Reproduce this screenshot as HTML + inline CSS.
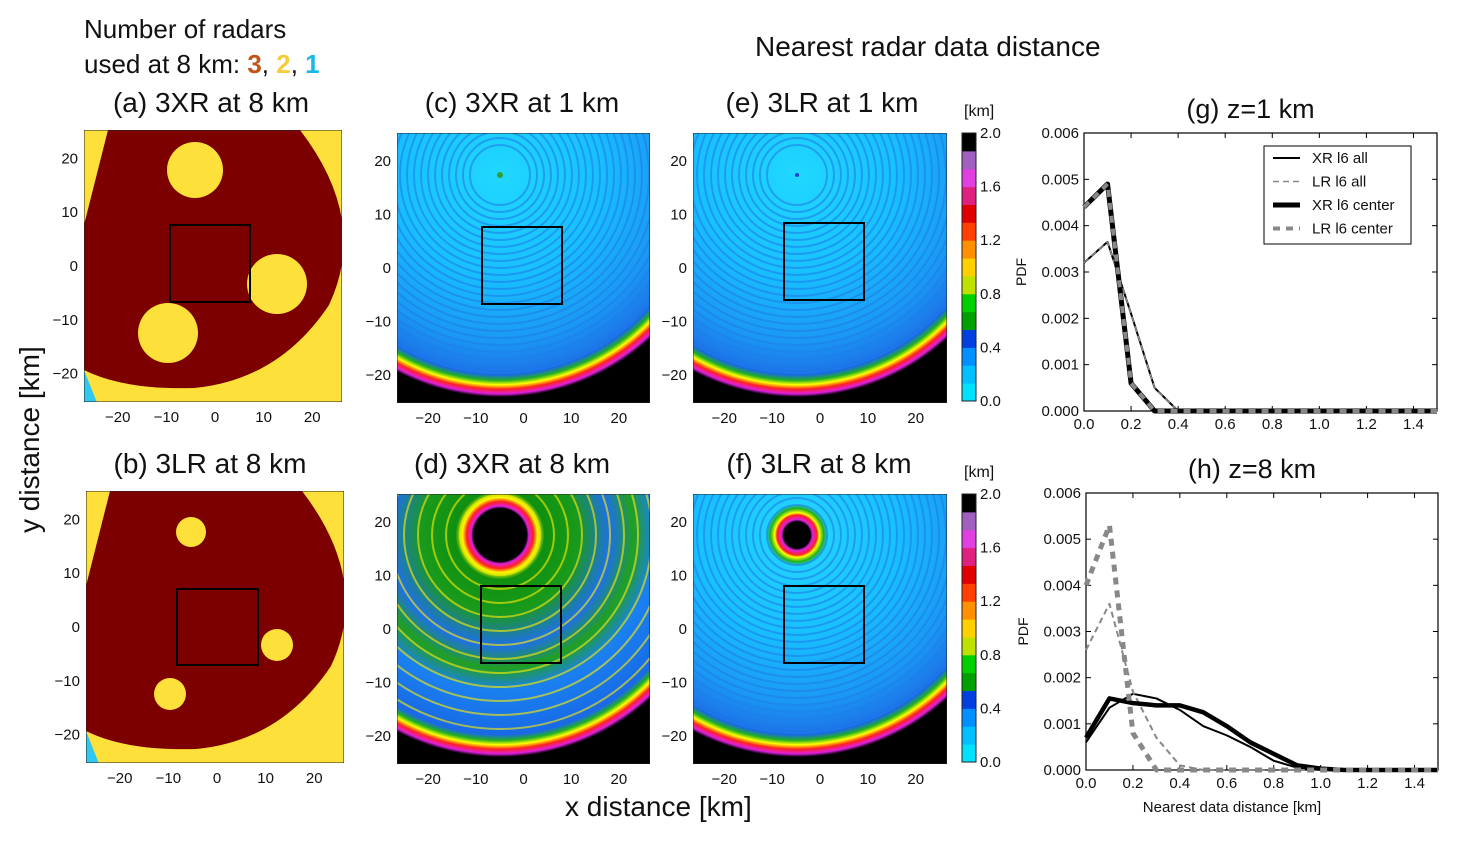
<!DOCTYPE html>
<html><head><meta charset="utf-8"><style>
body{margin:0;background:#fff;width:1458px;height:841px;position:relative;overflow:hidden;font-family:"Liberation Sans",sans-serif}
.t{position:absolute;white-space:nowrap;color:#111}
</style></head><body>
<div class="t" style="left:84px;top:12px;font-size:26px;line-height:35px">Number of radars<br>used at 8 km: <b style="color:#c0561a">3</b>, <b style="color:#f7cc3a">2</b>, <b style="color:#1ab8e8">1</b></div>
<div class="t" style="left:755px;top:31px;font-size:28px">Nearest radar data distance</div>
<div class="t" style="left:-95px;top:392px;font-size:28px;transform:rotate(-90deg);width:250px">y distance [km]</div>
<div class="t" style="left:565px;top:791px;font-size:28px">x distance [km]</div>
<svg id="maps" width="1458" height="841" style="position:absolute;left:0;top:0"></svg>
<svg id="charts" width="1458" height="841" style="position:absolute;left:0;top:0"></svg>
<script>
const NS='http://www.w3.org/2000/svg';
function el(svg,tag,attrs,txt){const e=document.createElementNS(NS,tag);for(const k in attrs)e.setAttribute(k,attrs[k]);if(txt!==undefined)e.textContent=txt;svg.appendChild(e);return e;}
const M=document.getElementById('maps');
const defs=el(M,'defs',{});
function rg(id,stops,cx,cy,r){const g=el(defs,'radialGradient',{id:id,cx:cx,cy:cy,r:r,gradientUnits:'userSpaceOnUse'});stops.forEach(s=>el(g,'stop',{offset:s[0],'stop-color':s[1]}));}
const edge=[[0.9,'#1a68e6'],[0.925,'#20b020'],[0.945,'#ffff00'],[0.965,'#ff2020'],[0.985,'#e020e0'],[1,'#000']];
rg('blueC',[[0,'#20d8ff'],[0.45,'#18c0ff'],[0.75,'#1a98f4'],[0.88,'#1c78ea']].concat(edge),500,175,222);
rg('blueE',[[0,'#20d8ff'],[0.45,'#18c0ff'],[0.75,'#1a98f4'],[0.88,'#1c78ea']].concat(edge),797,175,222);
rg('greenD',[[0,'#000'],[0.12,'#000'],[0.13,'#e020e0'],[0.15,'#ff2020'],[0.17,'#ffff00'],[0.2,'#109010'],[0.35,'#1a9a1a'],[0.5,'#1e70e8'],[0.6,'#20a020'],[0.7,'#1a80f0'],[0.85,'#1870e8']].concat(edge),500,535,222);
rg('blueF',[[0,'#000'],[0.06,'#000'],[0.07,'#e020e0'],[0.09,'#ff2020'],[0.1,'#ffff00'],[0.12,'#20b020'],[0.14,'#20d0ff'],[0.45,'#18c0ff'],[0.75,'#1a98f4'],[0.88,'#1c78ea']].concat(edge),797,535,222);
function ticks(x0,x1,y0,y1){
  const sx=(x1-x0)/52, cx=x0+26*sx+ (x0<200?2:0);
  [-20,-10,0,10,20].forEach(v=>{const t=el(M,'text',{x:cx+v*sx*0.98,y:y1+20,'font-size':15,'text-anchor':'middle',fill:'#111'},v===0?'0':(v<0?'\u2212'+(-v):v));});
  const cy=(y0+y1)/2, sy=(y1-y0)/50.5;
  [20,10,0,-10,-20].forEach(v=>{const t=el(M,'text',{x:x0-6,y:cy-v*sy+5,'font-size':15,'text-anchor':'end',fill:'#111'},v===0?'0':(v<0?'\u2212'+(-v):v));});
}
function title(x,y,s){const t=el(M,'text',{x:x,y:y,'font-size':28,'text-anchor':'middle',fill:'#111'},s);}
function coverage(x0,y0,w,h,circ,box,name){
  const g=el(M,'g',{});
  const cid='c'+name;const cp=el(defs,'clipPath',{id:cid});el(cp,'rect',{x:x0,y:y0,width:w,height:h});
  g.setAttribute('clip-path','url(#'+cid+')');
  el(g,'rect',{x:x0,y:y0,width:w,height:h,fill:'#fde03a'});
  el(g,'path',{d:`M${x0-5},${y0+220} L${x0} ${y0+240} L${x0+14},${y0+275} L${x0-5},${y0+275}Z`,fill:'#2ec8f0'});
  el(g,'path',{d:`M${x0},${y0+95} L${x0+24},${y0} L${x0+216},${y0} Q${x0+285},${y0+90} ${x0+245},${y0+175} Q${x0+195},${y0+250} ${x0+110},${y0+258} Q${x0+40},${y0+260} ${x0},${y0+240}Z`,fill:'#7d0000'});
  circ.forEach(c=>el(g,'circle',{cx:c[0],cy:c[1],r:c[2],fill:'#fde03a'}));
  el(g,'rect',{x:box[0],y:box[1],width:box[2],height:box[3],fill:'none',stroke:'#000','stroke-width':2});
  el(g,'rect',{x:x0,y:y0,width:w,height:h,fill:'none',stroke:'#222','stroke-width':1});
}
coverage(84,130,258,272,[[195,170,28],[277,284,30],[168,333,30]],[170,225,80,77],'panel-a');
coverage(86,491,258,272,[[191,532,15],[277,645,16],[170,694,16]],[177,589,81,76],'panel-b');
title(211,112,'(a) 3XR at 8 km');title(210,473,'(b) 3LR at 8 km');
ticks(84,342,130,402);ticks(86,344,491,763);
function field(x0,y0,w,h,fill,box,name,rings,rc){
  const g=el(M,'g',{});
  const cid='c'+name;const cp=el(defs,'clipPath',{id:cid});el(cp,'rect',{x:x0,y:y0,width:w,height:h});
  g.setAttribute('clip-path','url(#'+cid+')');
  el(g,'rect',{x:x0,y:y0,width:w,height:h,fill:'url(#'+fill+')'});
  for(let r=rings[0];r<200;r+=rings[1]) el(g,'circle',{cx:rc[0],cy:rc[1],r:r,fill:'none',stroke:rings[2],'stroke-width':rings[3],opacity:0.6});
  el(g,'rect',{x:box[0],y:box[1],width:box[2],height:box[3],fill:'none',stroke:'#000','stroke-width':2});
  el(g,'rect',{x:x0,y:y0,width:w,height:h,fill:'none',stroke:'#222','stroke-width':1});
}
field(397,133,253,270,'blueC',[482,227,80,77],'panel-c',[30,7,'#1e7ee8',2],[500,175]);
field(693,133,254,270,'blueE',[784,223,80,77],'panel-e',[30,7,'#1e7ee8',2],[797,175]);
field(397,494,253,270,'greenD',[481,586,80,77],'panel-d',[40,14,'#ffee00',2],[500,535]);
field(693,494,254,270,'blueF',[784,586,80,77],'panel-f',[30,7,'#1e7ee8',2],[797,535]);
el(M,'circle',{cx:500,cy:175,r:3,fill:'#30a030'});el(M,'circle',{cx:797,cy:175,r:2,fill:'#2040d0'});
title(522,112,'(c) 3XR at 1 km');title(822,112,'(e) 3LR at 1 km');title(512,473,'(d) 3XR at 8 km');title(819,473,'(f) 3LR at 8 km');
ticks(397,650,133,403);ticks(693,947,133,403);ticks(397,650,494,764);ticks(693,947,494,764);
const cbCols=['#00e0ff','#00c0ff','#0090ff','#0040e0','#00a000','#00d000','#c0e000','#ffd000','#ff9000','#ff4000','#e00000','#e02080','#e040e0','#a060c0','#000'];
function colorbar(x,y0,y1,name){
  const g=el(M,'g',{});
  const h=(y1-y0)/cbCols.length;
  cbCols.forEach((c,i)=>el(g,'rect',{x:x,y:y1-(i+1)*h,width:14,height:h+0.5,fill:c}));
  el(g,'rect',{x:x,y:y0,width:14,height:y1-y0,fill:'none',stroke:'#222'});
  ['0.0','0.4','0.8','1.2','1.6','2.0'].forEach((s,i)=>{el(g,'text',{x:x+18,y:y1-i*(y1-y0)/5+5,'font-size':15,fill:'#111'},s);});
  el(g,'text',{x:x+2,y:y0-17,'font-size':16,fill:'#111'},'[km]');
}
colorbar(962,133,401,'colorbar-top');colorbar(962,494,762,'colorbar-bottom');

const xs=[0,0.1,0.2,0.3,0.4,0.5,0.6,0.7,0.8,0.9,1.0,1.1,1.2,1.3,1.4,1.5];
const gXRall=[0.0032,0.00365,0.0021,0.0005,0,0,0,0,0,0,0,0,0,0,0,0];
const gLRall=[0.0032,0.00365,0.0021,0.0005,0,0,0,0,0,0,0,0,0,0,0,0];
const gXRcen=[0.0044,0.0049,0.0006,0,0,0,0,0,0,0,0,0,0,0,0,0];
const gLRcen=[0.0044,0.0049,0.0006,0,0,0,0,0,0,0,0,0,0,0,0,0];
const hXRall=[0.0006,0.00135,0.00165,0.00155,0.0013,0.00095,0.00075,0.0005,0.0002,0.00005,0,0,0,0,0,0];
const hLRall=[0.0026,0.0036,0.0017,0.0007,0.0001,0,0,0,0,0,0,0,0,0,0,0];
const hXRcen=[0.0007,0.00155,0.00145,0.0014,0.0014,0.00125,0.00095,0.0006,0.00035,0.0001,0.00003,0,0,0,0,0];
const hLRcen=[0.004,0.0053,0.0008,0,0,0,0,0,0,0,0,0,0,0,0,0];
const xTicks=['0.0','0.2','0.4','0.6','0.8','1.0','1.2','1.4'];
const yTicks=['0.000','0.001','0.002','0.003','0.004','0.005','0.006'];
const C=document.getElementById('charts');
function chart(L,T,R,B,series,ttl,name,legend,xlabel){
  const g=el(C,'g',{});
  const X=v=>L+v/1.5*(R-L), Y=v=>B-v/0.006*(B-T);
  el(g,'rect',{x:L,y:T,width:R-L,height:B-T,fill:'#fff',stroke:'#000','stroke-width':1.2});
  xTicks.forEach(s=>{const v=+s;el(g,'line',{x1:X(v),x2:X(v),y1:B,y2:B-5,stroke:'#000'});el(g,'line',{x1:X(v),x2:X(v),y1:T,y2:T+5,stroke:'#000'});
    const t=el(g,'text',{x:X(v),y:B+18,'font-size':15,'text-anchor':'middle',fill:'#111'},s);});
  yTicks.forEach(s=>{const v=+s;el(g,'line',{x1:L,x2:L+5,y1:Y(v),y2:Y(v),stroke:'#000'});el(g,'line',{x1:R,x2:R-5,y1:Y(v),y2:Y(v),stroke:'#000'});
    const t=el(g,'text',{x:L-5,y:Y(v)+5,'font-size':15,'text-anchor':'end',fill:'#111'},s);});
  const yl=el(g,'text',{x:0,y:0,'font-size':14,'text-anchor':'middle',fill:'#111',transform:`translate(${L-58},${(T+B)/2}) rotate(-90)`},'PDF');
  const tt=el(g,'text',{x:(L+R)/2-10,y:T-15,'font-size':27,'text-anchor':'middle',fill:'#111'},ttl);
  if(xlabel){const xl=el(g,'text',{x:(L+R)/2-30,y:B+42,'font-size':15,'text-anchor':'middle',fill:'#111'},xlabel);}
  series.forEach(s=>{const p=el(g,'polyline',{points:xs.map((x,i)=>X(x)+','+Y(s.d[i])).join(' '),fill:'none',stroke:s.c,'stroke-width':s.w,'stroke-dasharray':s.da||'none','stroke-linejoin':'round'});});
  if(legend){const lx=1264,ly=146;const lg=el(g,'g',{});
    el(lg,'rect',{x:lx,y:ly,width:147,height:98,fill:'#fff',stroke:'#000'});
    series.forEach((s,i)=>{const yy=ly+12+i*23.5;el(lg,'line',{x1:lx+9,x2:lx+36,y1:yy,y2:yy,stroke:s.c,'stroke-width':s.w,'stroke-dasharray':s.da||'none'});
      const e=el(lg,'text',{x:lx+48,y:yy+5,'font-size':15,fill:'#111'},s.n2);});}
}
chart(1084,133,1437,411,[
 {d:gXRall,c:'#000',w:2,n:'line-xr-all',n2:'XR l6 all'},
 {d:gLRall,c:'#888',w:1.5,da:'6,4',n:'line-lr-all',n2:'LR l6 all'},
 {d:gXRcen,c:'#000',w:5,n:'line-xr-center',n2:'XR l6 center'},
 {d:gLRcen,c:'#888',w:4,da:'7,6',n:'line-lr-center',n2:'LR l6 center'}],'(g) z=1 km','chart-g',true);
chart(1086,493,1438,770,[
 {d:hXRall,c:'#000',w:2,n:'line-xr-all'},
 {d:hLRall,c:'#888',w:2,da:'6,4',n:'line-lr-all'},
 {d:hXRcen,c:'#000',w:4.5,n:'line-xr-center'},
 {d:hLRcen,c:'#888',w:5,da:'7,6',n:'line-lr-center'}],'(h) z=8 km','chart-h',false,'Nearest data distance [km]');
</script>
</body></html>
